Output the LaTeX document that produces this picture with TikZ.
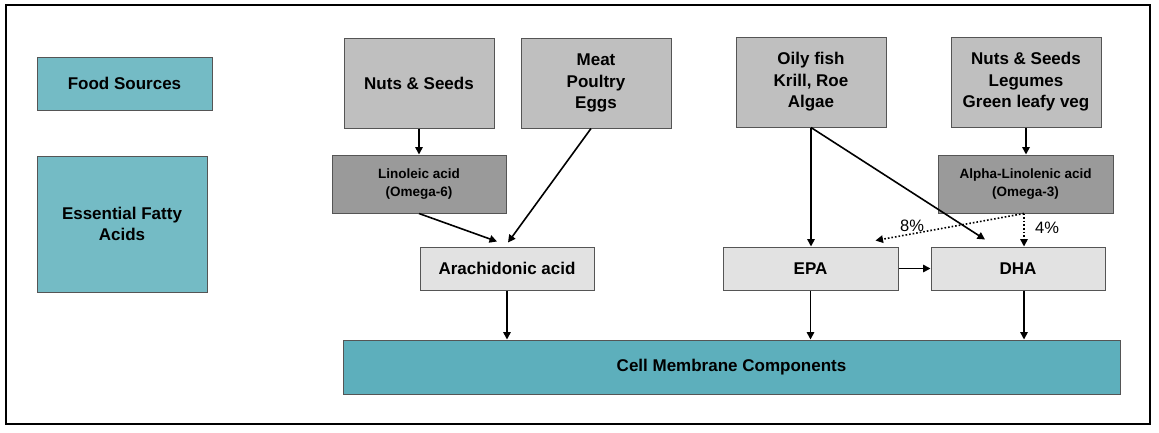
\documentclass[tikz,border=0pt]{standalone}
\usepackage{fontspec}
\setmainfont{Liberation Sans}
\usetikzlibrary{arrows.meta}
\definecolor{tealA}{HTML}{74BBC5}
\definecolor{tealB}{HTML}{5DAFBC}
\definecolor{grayA}{HTML}{BFBFBF}
\definecolor{grayB}{HTML}{9A9A9A}
\definecolor{grayC}{HTML}{E2E2E2}
\definecolor{edge}{HTML}{555555}
\begin{document}
\begin{tikzpicture}[x=1pt,y=-1pt,
  box/.style={draw=edge, line width=1pt, inner sep=0pt, align=center,
    font=\bfseries\fontsize{17}{21.5}\selectfont},
  smallbox/.style={box, fill=grayB, minimum width=174pt, minimum height=58pt,
    font=\bfseries\fontsize{13.5}{18}\selectfont},
  srcbox/.style={box, fill=grayA, minimum width=150pt, minimum height=90pt},
  midbox/.style={box, fill=grayC, minimum width=174pt, minimum height=43pt},
  arr/.style={-{Triangle[length=7.5pt,width=7.5pt]}, line width=1.6pt, black},
  dotarr/.style={arr, dotted, line width=1.6pt},
  pct/.style={font=\fontsize{16.5}{18}\selectfont, inner sep=0pt}
]
\useasboundingbox (0,0) rectangle (1159,432);
\draw[line width=2.4pt] (6,5) rectangle (1150,424);

\node[box, fill=tealA, minimum width=175pt, minimum height=53pt] (fs) at (124.5,83.5) {Food Sources};
\node[box, fill=tealA, minimum width=170pt, minimum height=136pt] (efa) at (122,224) {Essential Fatty\\Acids};

\node[srcbox] (nuts) at (419,83) {Nuts \& Seeds};
\node[srcbox] (meat) at (596,83) {Meat\\Poultry\\Eggs};
\node[srcbox] (oily) at (811,82) {Oily fish\\Krill, Roe\\Algae};
\node[srcbox] (leg) at (1026,82) {Nuts \& Seeds\\Legumes\\Green leafy veg};

\node[smallbox] (lin) at (419,184) {Linoleic acid\\(Omega-6)};
\node[smallbox, minimum width=175pt] (ala) at (1025.5,184) {Alpha-Linolenic acid\\(Omega-3)};

\node[midbox] (ara) at (507,268.5) {Arachidonic acid};
\node[midbox, minimum width=175pt] (epa) at (810.5,268.5) {EPA};
\node[midbox] (dha) at (1018,268.5) {DHA};

\node[box, fill=tealB, minimum width=777pt, minimum height=54pt] (cell) at (731.5,367) {Cell Membrane Components};

\draw[arr] (nuts.south) -- (lin.north);
\draw[arr] (lin.south) -- ([xshift=-10pt,yshift=5pt]ara.north);
\draw[arr] ([xshift=-5pt]meat.south) -- ([xshift=1pt,yshift=4pt]ara.north);
\draw[arr] (oily.south) -- (oily.south |- epa.north);
\draw[arr] (oily.south) -- ([xshift=-33pt,yshift=7pt]dha.north);
\draw[arr] (leg.south) -- (leg.south |- ala.north);

\coordinate (as) at ([xshift=-1.5pt]ala.south);
\draw[dotarr] (as) -- ([xshift=-23pt,yshift=6pt]epa.north east);
\draw[dotarr] (as) -- (as |- dha.north);
\node[pct] (p8) at (912,226) {8\%};
\node[pct] (p4) at (1047,228) {4\%};

\draw[arr] (epa.east) -- (dha.west);
\draw[arr] (ara.south) -- (ara.south |- cell.north);
\draw[arr] (epa.south) -- (epa.south |- cell.north);
\draw[arr] ([xshift=6pt]dha.south) -- ([xshift=6pt]dha.south |- cell.north);
\end{tikzpicture}
\end{document}
